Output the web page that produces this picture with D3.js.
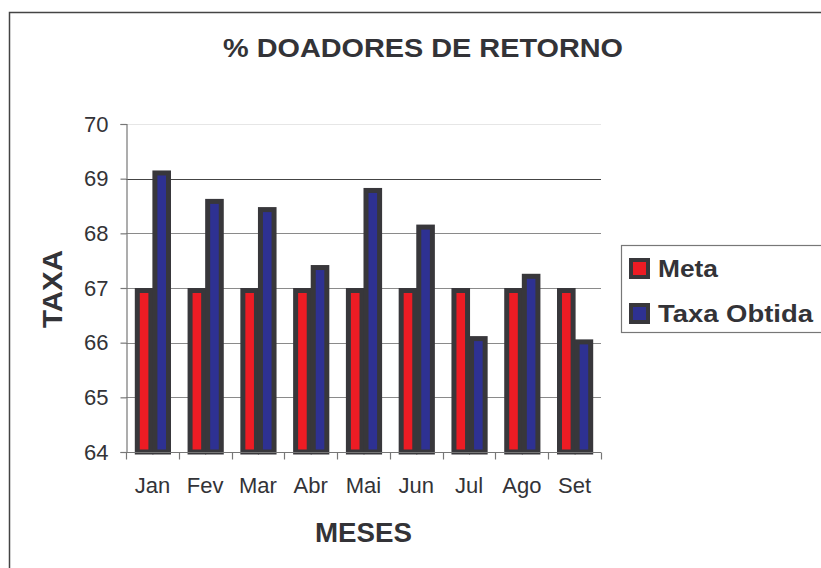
<!DOCTYPE html>
<html>
<head>
<meta charset="utf-8">
<script src="https://cdn.jsdelivr.net/npm/d3@7"></script>
<style>
  body { margin: 0; background: #fff; }
  text { font-family: "Liberation Sans", Arial, sans-serif; fill: #333337; }
</style>
</head>
<body>
<script>
// dados do grafico
var meses = ["Jan", "Fev", "Mar", "Abr", "Mai", "Jun", "Jul", "Ago", "Set"];
var meta = [67, 67, 67, 67, 67, 67, 67, 67, 67];
var taxaObtida = [69.15, 68.63, 68.48, 67.42, 68.83, 68.16, 66.12, 67.26, 66.06];
var series = ["Meta", "Taxa Obtida"];
var yTicks = [64, 65, 66, 67, 68, 69, 70];

var colors = { "Meta": "#ed1c24", "Taxa Obtida": "#2e3192" };
var stroke = "#38373b";

var svg = d3.select("body").append("svg")
  .attr("width", 821).attr("height", 568);

// moldura externa
svg.append("rect")
  .attr("x", 9.5).attr("y", 12.5)
  .attr("width", 900).attr("height", 700)
  .style("fill", "none").style("stroke", "#444").style("stroke-width", 1.5);

var x = d3.scaleBand().domain(meses).range([126, 601])
  .paddingInner(0.333).paddingOuter(0.1667);
var x1 = d3.scaleBand().domain(series).range([0, x.bandwidth()]);
var y = d3.scaleLinear().domain([64, 70]).range([452, 124]);

// linhas de grade
svg.append("g").selectAll("line").data(yTicks.filter(function (d) { return d > 64; }))
  .enter().append("line")
  .attr("x1", 126).attr("x2", 601)
  .attr("y1", function (d) { return Math.round(y(d)) + 0.5; })
  .attr("y2", function (d) { return Math.round(y(d)) + 0.5; })
  .style("stroke", function (d) { return d == 70 ? "#e6e6e6" : (d == 69 ? "#444" : "#8a8a8a"); })
  .style("stroke-width", 1.2);

// barras
var rows = meses.map(function (m, i) {
  return { mes: m, vals: [{ s: "Meta", v: meta[i] }, { s: "Taxa Obtida", v: taxaObtida[i] }] };
});
var grp = svg.append("g").selectAll("g").data(rows).enter().append("g")
  .attr("transform", function (d) { return "translate(" + x(d.mes) + ",0)"; });
grp.selectAll("rect").data(function (d) { return d.vals; }).enter().append("rect")
  .attr("x", function (d) { return x1(d.s) + 2.5; })
  .attr("width", x1.bandwidth() - 4)
  .attr("y", function (d) { return y(d.v) + 2.5; })
  .attr("height", function (d) { return y(64) - y(d.v) - 2.5; })
  .style("fill", function (d) { return colors[d.s]; })
  .style("stroke", stroke).style("stroke-width", 5);

// eixo y
var yAxis = svg.append("g").attr("transform", "translate(126.5,0)")
  .call(d3.axisLeft(y).tickValues(yTicks).tickSize(6).tickPadding(12).tickFormat(d3.format("d")));
yAxis.select(".domain").style("stroke", "#777").style("stroke-width", 1.2);
yAxis.selectAll(".tick line").style("stroke", "#777").style("stroke-width", 1.2);
yAxis.selectAll(".tick text").style("font-size", "22px").style("font-family", "Liberation Sans, Arial, sans-serif").style("fill", "#333337");

// eixo x
var xAxis = svg.append("g").attr("transform", "translate(0,452.5)")
  .call(d3.axisBottom(x).tickSize(0).tickPadding(25));
xAxis.select(".domain").attr("d", "M126,0H601").style("stroke", "#777").style("stroke-width", 1.2);
xAxis.selectAll(".tick text").style("font-size", "22px").style("font-family", "Liberation Sans, Arial, sans-serif").style("fill", "#333337");
var bounds = [x.range()[0]].concat(meses.map(function (m) { return x(m) + x.bandwidth() + x.step() * x.paddingInner() / 2; }));
xAxis.selectAll("line.sep").data(bounds).enter().append("line").attr("class", "sep")
  .attr("x1", function (d) { return Math.round(d) + 0.5; })
  .attr("x2", function (d) { return Math.round(d) + 0.5; })
  .attr("y1", 0).attr("y2", 7)
  .style("stroke", "#777").style("stroke-width", 1.2);

// titulos
svg.append("text").attr("x", 223).attr("y", 57)
  .attr("textLength", 400).attr("lengthAdjust", "spacingAndGlyphs")
  .style("font-size", "26px").style("font-weight", "bold")
  .text("% DOADORES DE RETORNO");
svg.append("text").attr("x", 315).attr("y", 542)
  .attr("textLength", 97).attr("lengthAdjust", "spacingAndGlyphs")
  .style("font-size", "27px").style("font-weight", "bold")
  .text("MESES");
svg.append("text").attr("transform", "translate(62,328) rotate(-90)")
  .attr("textLength", 78).attr("lengthAdjust", "spacingAndGlyphs")
  .style("font-size", "27px").style("font-weight", "bold")
  .text("TAXA");

// legenda
svg.append("rect").attr("x", 621.5).attr("y", 245.5).attr("width", 260).attr("height", 87)
  .style("fill", "#fff").style("stroke", "#777").style("stroke-width", 1.2);
var leg = svg.append("g").selectAll("g").data(series).enter().append("g")
  .attr("transform", function (d, i) { return "translate(0," + (i * 45) + ")"; });
leg.append("rect").attr("x", 631).attr("y", 260).attr("width", 17).attr("height", 17)
  .style("fill", function (d) { return colors[d]; })
  .style("stroke", stroke).style("stroke-width", 4);
leg.append("text").attr("x", 658).attr("y", 277)
  .attr("textLength", function (d) { return d == "Meta" ? 60 : 155; })
  .attr("lengthAdjust", "spacingAndGlyphs")
  .style("font-size", "23px").style("font-weight", "bold")
  .text(function (d) { return d; });
</script>
</body>
</html>
